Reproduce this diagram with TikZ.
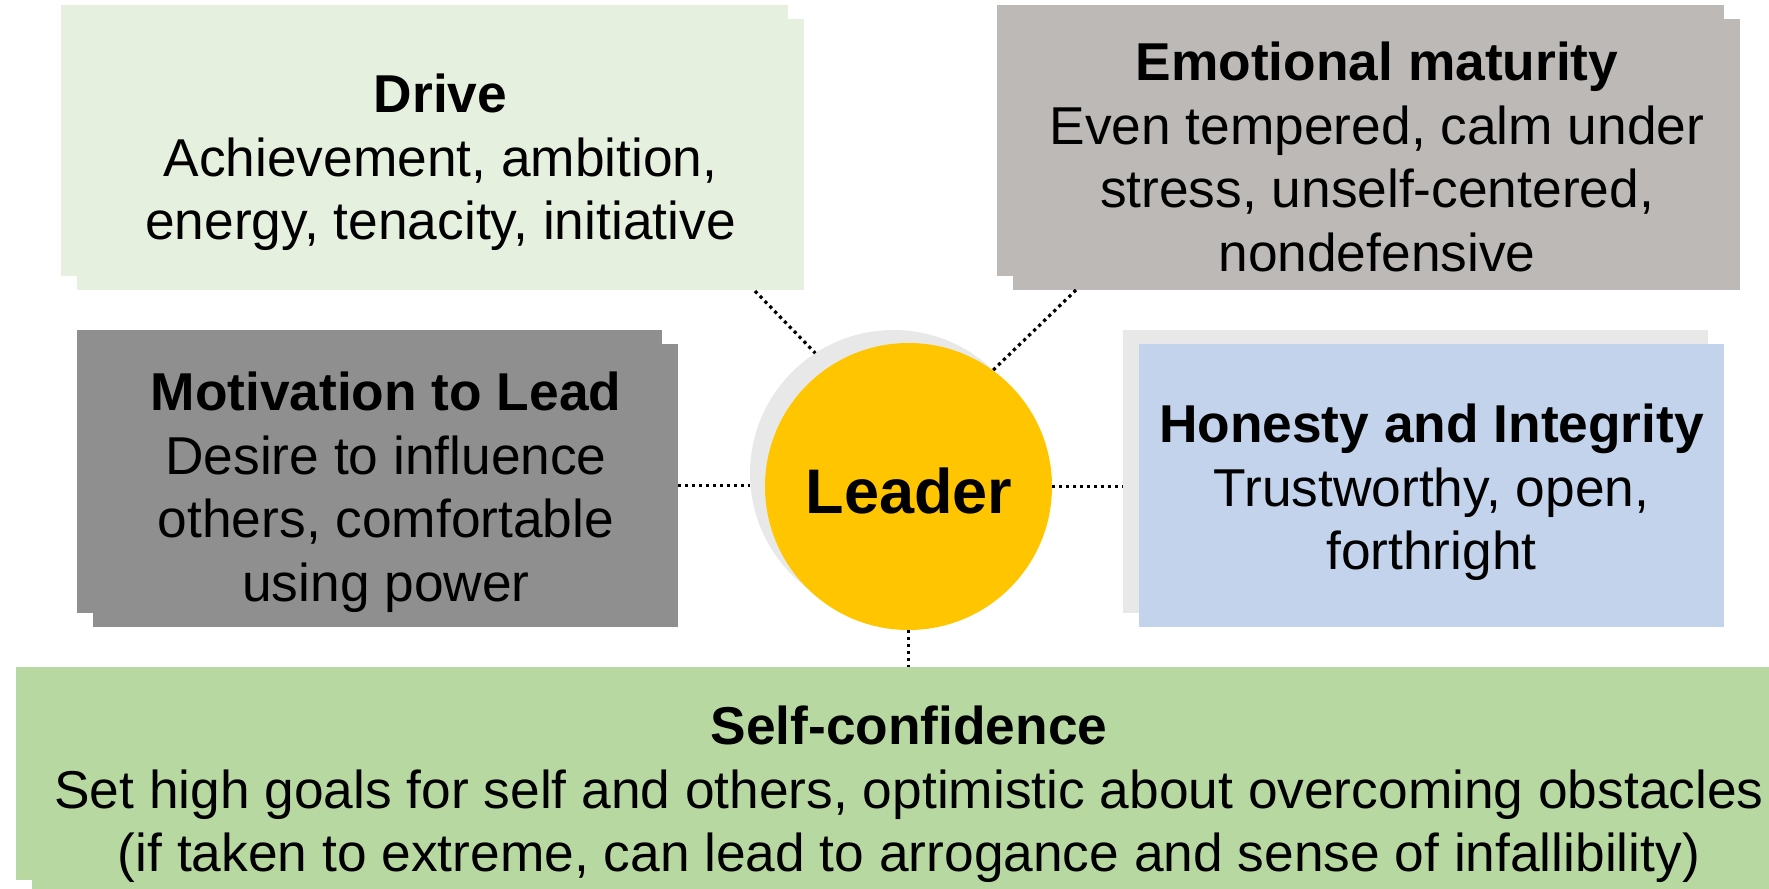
\documentclass[tikz,border=0pt]{standalone}
\usepackage{fontspec}
\setmainfont{Liberation Sans}
\usetikzlibrary{calc}
\definecolor{driveC}{HTML}{E5F0DF}
\definecolor{emoC}{HTML}{BDB9B7}
\definecolor{motC}{HTML}{8F8F8F}
\definecolor{honC}{HTML}{C2D3EB}
\definecolor{shadeC}{HTML}{E8E8E8}
\definecolor{selfC}{HTML}{B8D8A2}
\definecolor{leadC}{HTML}{FFC600}
\begin{document}
\begin{tikzpicture}[x=0.5pt,y=-0.5pt,
  box/.style={rectangle, inner sep=0, outer sep=0, draw=none},
  bigbox/.style={box, minimum width=363.5pt, minimum height=135.5pt},
  midbox/.style={box, minimum width=292.5pt, minimum height=141.5pt},
  selfbox/.style={box, minimum width=892pt, minimum height=106.5pt},
  disc/.style={circle, inner sep=0, outer sep=0, draw=none, minimum size=143.5pt},
  txt/.style={inner sep=0, outer sep=0, align=center, text=black,
    font=\fontsize{26.65}{31.75}\selectfont},
  conn/.style={line width=1.6pt, dash pattern=on 1.6pt off 1.9pt, black},
]
\useasboundingbox (0,0) rectangle (1769,889);
% boxes: shadows then fronts
\node[bigbox, fill=driveC] (driveS) at (424.5,140.5) {};
\node[bigbox, fill=driveC] (drive) at (440.5,154.5) {};
\node[bigbox, fill=emoC] (emoS) at (1360.5,140.5) {};
\node[bigbox, fill=emoC] (emo) at (1376.5,154.5) {};
\node[midbox, fill=motC] (motS) at (369.5,471.5) {};
\node[midbox, fill=motC] (mot) at (385.5,485.5) {};
\node[midbox, fill=shadeC] (honS) at (1415.5,471.5) {};
\node[midbox, fill=honC] (hon) at (1431.5,485.5) {};
\node[selfbox, fill=selfC] (selfS) at (908,773.5) {};
\node[selfbox, fill=selfC] (self) at (924,787.5) {};
% leader circle
\node[disc, fill=shadeC] (lshadow) at (893.5,473.5) {};
\node[disc, fill=leadC] (lead) at (908.5,486.5) {};
% connectors
\coordinate (dA) at (755,291);
\coordinate (eA) at (1076,290);
\draw[conn] (dA) -- (lshadow.123);
\draw[conn] (eA) -- (lead.54);
\draw[conn] (mot.east) -- (mot.east -| lshadow.west);
\draw[conn] (lead.east) -- (lead.east -| honS.west);
\draw[conn] (lead.south) -- (lead.south |- selfS.north);
% texts
\node[txt, anchor=north] (driveT) at (440.5,74)
  {\textbf{Drive}\\Achievement, ambition,\\energy, tenacity, initiative};
\node[txt, anchor=north] (emoT) at (1377,42)
  {\textbf{Emotional maturity}\\Even tempered, calm under\\stress, unself-centered,\\nondefensive};
\node[txt, anchor=north] (motT) at (386,372)
  {\textbf{Motivation to Lead}\\Desire to influence\\others, comfortable\\using power};
\node[txt, anchor=north] (honT) at (1431.5,404)
  {\textbf{Honesty and Integrity}\\Trustworthy, open,\\forthright};
\node[txt, anchor=north] (selfT) at (909,706)
  {\textbf{Self-confidence}\\Set high goals for self and others, optimistic about overcoming obstacles\\(if taken to extreme, can lead to arrogance and sense of infallibility)};
\node[inner sep=0, outer sep=0, anchor=base, font=\fontsize{31.5}{36}\selectfont\bfseries] (leadT) at (909,513) {Leader};
\end{tikzpicture}
\end{document}
